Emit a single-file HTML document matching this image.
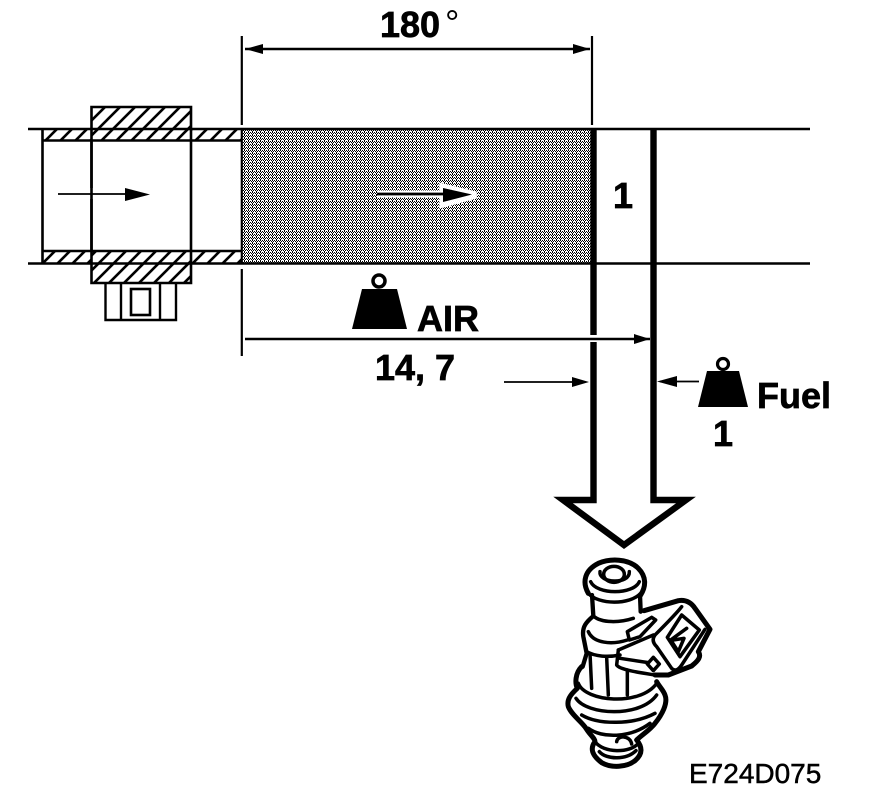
<!DOCTYPE html>
<html><head><meta charset="utf-8"><style>
html,body{margin:0;padding:0;background:#fff}
svg{display:block}
text{font-family:"Liberation Sans",sans-serif;fill:#000}
.b{font-weight:bold;font-size:36px;stroke:#000;stroke-width:0.7px}
</style></head><body>
<svg width="880" height="798" viewBox="0 0 880 798" xmlns="http://www.w3.org/2000/svg">
<defs>
<pattern id="dots" width="4" height="3" patternUnits="userSpaceOnUse">
<rect width="4" height="3" fill="#fff"/>
<g fill="#000"><rect x="0" y="0" width="1" height="1"/><rect x="2" y="0" width="1" height="1"/><rect x="1" y="1" width="1" height="1"/><rect x="3" y="1" width="1" height="1"/><rect x="0" y="2" width="1" height="1"/></g>
</pattern>
<pattern id="hatchB" width="15" height="15" patternUnits="userSpaceOnUse" x="2" y="0">
<path d="M-2,17 L17,-2 M-2,2 L2,-2 M13,17 L17,13" stroke="#000" stroke-width="2.600"/>
</pattern>
<pattern id="hatchS" width="15" height="15" patternUnits="userSpaceOnUse" x="6" y="0">
<path d="M-2,17 L17,-2 M-2,2 L2,-2 M13,17 L17,13" stroke="#000" stroke-width="2.600"/>
</pattern>
</defs>

<!-- gray region -->
<rect x="243" y="130" width="348" height="133" fill="url(#dots)" shape-rendering="crispEdges"/>

<!-- hatched pipe -->
<rect x="43" y="130" width="199" height="10" fill="url(#hatchS)"/>
<rect x="43" y="252" width="199" height="11" fill="url(#hatchS)"/>
<rect x="91" y="107" width="100" height="33" fill="#fff"/>
<rect x="91" y="251" width="100" height="32" fill="#fff"/>
<rect x="91" y="107" width="100" height="33" fill="url(#hatchB)"/>
<rect x="91" y="251" width="100" height="32" fill="url(#hatchB)"/>

<g fill="none" stroke="#000" stroke-width="2">
<path d="M28,129 H810 M28,263.500 H810" stroke-width="2.400"/>
<path d="M42.500,129 V263 M42,140.500 H242 M42,251 H242" stroke-width="2.600"/>
<path d="M241.800,130 V263" stroke-width="2.200"/>
<path d="M91.500,107 H191 V283 H91.500 Z" stroke-width="2.600"/>
<path d="M91.500,140 V188 M91.500,199 V251" stroke-width="2.600"/>
<path d="M105.500,283 V320 H176 V283 M121,283 V320 M160,283 V320" stroke-width="2.400"/>
<rect x="131" y="289" width="19" height="26" stroke-width="2.600"/>
<path d="M241.800,36 V125 M241.800,269 V356 M592,36 V125" stroke-width="2.200"/>
<path d="M245,49 H590 M245,339 H650" stroke-width="2.600"/>
<path d="M58,194 H126" stroke-width="1.800"/>
<path d="M504,382 H575 M660,381.500 H699" stroke-width="1.800"/>
</g>

<!-- thick outline arrow -->
<path d="M593.500,130 V335 M593.500,342 V500 H563 L624,545 L686,500 H653.500 V130" fill="none" stroke="#000" stroke-width="6.400" stroke-miterlimit="6"/>

<!-- arrowheads -->
<g fill="#000">
<path d="M125,188 L150,194.500 L125,201 Z"/>
<path d="M245,49 L263,44 V54 Z"/>
<path d="M590,49 L573,44 V54 Z"/>
<path d="M650,339 L634,334 V344 Z"/>
<path d="M589,382 L572,377 V387 Z"/>
<path d="M657,381.500 L677,376 V387 Z"/>
</g>

<!-- centre arrow with halo -->
<path d="M377,194 H445 M443,187 L476,195 L443,204 Z" fill="#fff" stroke="#fff" stroke-width="7"/>
<path d="M377,194 H445" stroke="#000" stroke-width="2.800"/>
<path d="M443,188 L472,194.500 L443,202 Z" fill="#000"/>

<!-- weights -->
<path d="M362,289 H397 L407,329 H352 Z" fill="#000"/>
<circle cx="379" cy="281" r="6" fill="#fff" stroke="#000" stroke-width="3.500"/>
<path d="M707,371 H739 L748,407 H698 Z" fill="#000"/>
<circle cx="723" cy="364" r="5.500" fill="#fff" stroke="#000" stroke-width="3.200"/>

<!-- labels -->
<text class="b" x="380" y="37">180</text>
<text x="445" y="35" font-size="36">°</text>
<text class="b" x="613" y="208">1</text>
<text class="b" x="417" y="331">AIR</text>
<text class="b" x="375" y="380">14, 7</text>
<text class="b" x="757" y="408">Fuel</text>
<text class="b" x="713" y="446">1</text>
<text x="689" y="783" font-size="28" stroke="#000" stroke-width="0.500">E724D075</text>

<!-- injector -->
<g transform="translate(540,540) scale(0.33333)" fill="none" stroke="#000" stroke-width="10.500" stroke-linejoin="round" stroke-linecap="round">
<!-- top cap -->
<path stroke-width="15" d="M145,160 C125,125 135,90 175,70 C210,55 265,55 295,85 C320,110 318,140 302,165"/>
<ellipse cx="222" cy="103" rx="31" ry="24"/>
<path d="M180,95 C175,130 270,135 268,95"/>
<path d="M152,125 C170,165 280,165 298,125"/>
<path d="M145,160 C175,195 270,195 302,160"/>
<!-- body -->
<path stroke-width="13" d="M156,165 L160,228 C140,245 125,260 130,290 L140,340 L128,380"/>
<path stroke-width="13" d="M300,165 L302,215"/>
<path d="M160,228 C185,250 240,248 280,235"/>
<path d="M145,275 C160,310 215,315 262,300"/>
<path d="M140,335 C165,350 205,352 240,345"/>
<path d="M150,340 L155,445 M200,352 L205,465 M262,390 L262,465"/>
<!-- flange -->
<path stroke-width="15" d="M125,380 C105,400 105,430 112,445 C90,465 80,480 85,500 C95,525 125,545 138,565 C150,585 165,595 165,605 C150,625 155,645 185,668 C215,685 260,682 285,662 C305,645 310,625 290,600 C305,585 330,570 345,550 C365,525 385,490 375,465 C370,450 358,440 350,425"/>
<path d="M115,430 C135,485 300,500 350,430"/>
<path d="M108,475 C140,525 300,535 350,465"/>
<path d="M125,525 C175,555 280,555 345,520"/>
<path d="M145,565 C185,595 270,595 330,550"/>
<path d="M165,605 C190,640 270,640 295,610"/>
<path d="M178,635 C200,660 260,660 288,632"/>
<path d="M230,605 C232,585 270,585 275,612"/>
<!-- connector -->
<path stroke-width="15" d="M312,212 L415,182 C440,178 455,190 465,205 L510,268 L475,335 C485,350 475,362 455,378 L385,405 L345,405"/>
<path d="M425,200 C410,220 375,255 345,285 C335,298 340,310 350,320 L395,385 C405,395 415,390 425,375 L495,268"/>
<path d="M425,225 L478,270 L420,350 L382,292 Z"/>
<path d="M440,265 L392,300 L415,335 L432,295 L400,300"/>
<path d="M235,330 L340,285"/>
<path d="M235,330 L230,375 C240,390 300,398 345,405"/>
<path d="M240,355 L325,368"/>
<path d="M340,352 L358,372 L340,392 L322,372 Z"/>
<path d="M262,275 L335,232 L347,240 L300,290 L268,300 Z"/>
</g>
</svg>
</body></html>
